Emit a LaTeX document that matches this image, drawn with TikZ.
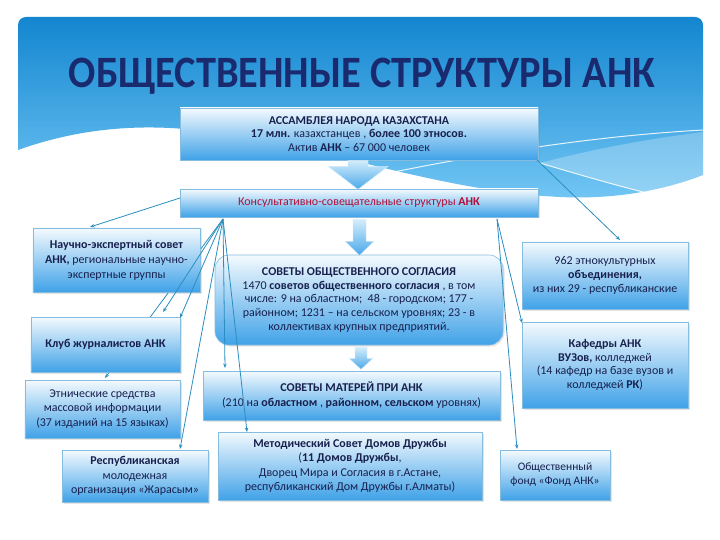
\documentclass[tikz,border=0pt]{standalone}
\usepackage{fontspec}
\setmainfont{Carlito}
\usetikzlibrary{arrows.meta,shadows,calc}
\definecolor{txt}{HTML}{18204E}
\definecolor{titlec}{HTML}{1A2A6E}
\definecolor{crim}{HTML}{B0103A}
\definecolor{panA}{HTML}{1386D0}
\definecolor{panB}{HTML}{72C6F4}
\definecolor{boxtop}{HTML}{F4FAFE}
\definecolor{boxbot}{HTML}{40A2E8}
\definecolor{boxedge}{HTML}{86BCDF}
\definecolor{lineC}{HTML}{2A8EC0}
\definecolor{arrtop}{HTML}{D4EDFB}
\definecolor{arrbot}{HTML}{4AA8EA}
\tikzset{
  box/.style={draw=boxedge, line width=0.6bp, top color=boxtop, bottom color=boxbot,
    align=center, inner sep=2bp, text=txt, font=\fontsize{12}{13.8}\selectfont,
    drop shadow={opacity=0.2, shadow xshift=1.5bp, shadow yshift=-1.5bp}},
  conn/.style={draw=lineC, line width=0.8bp, -{Stealth[length=4.5bp,width=3.5bp]}},
  blockarrow/.style={draw=arrtop, line width=0.4bp, top color=arrtop, bottom color=arrbot},
  wline/.style={draw=white, line width=1bp, opacity=0.85}
}
\begin{document}
\begin{tikzpicture}[x=1bp,y=-1bp]
\useasboundingbox (0,0) rectangle (720,540);
\fill[white] (0,0) rectangle (720,540);
% background panel
\shade[top color=panA, bottom color=panB]
  (18,150) [rounded corners=8bp] -- (18,17) -- (703,17) -- (703,60) [sharp corners] -- (703,175)
  .. controls (670,188) and (620,200) .. (560,197)
  .. controls (420,190) and (300,135) .. (170,128)
  .. controls (110,125) and (60,135) .. (18,150) -- cycle;
\fill[white, opacity=0.25] (540,163) .. controls (580,175) and (615,185) .. (643,192)
  .. controls (670,188) and (690,182) .. (703,175) -- (703,132) .. controls (640,140) and (590,150) .. (540,163) -- cycle;
\draw[wline] (300,192) .. controls (420,165) and (560,138) .. (703,130);
\draw[wline] (540,163) .. controls (580,175) and (615,185) .. (643,192);

\node[font=\fontsize{45}{45}\selectfont\bfseries, text=titlec] (title) at (362,76)
  {\scalebox{0.9}[1]{ОБЩЕСТВЕННЫЕ СТРУКТУРЫ АНК}};

% boxes
\node[box, minimum width=358bp, minimum height=52bp] (asm) at (359,134)
  {{\bfseries АССАМБЛЕЯ НАРОДА КАЗАХСТАНА}\\{\bfseries 17 млн.} казахстанцев , {\bfseries более 100 этносов.}\\Актив {\bfseries АНК} – 67 000 человек};
\node[box, minimum width=358bp, minimum height=28bp] (kon) at (359,203)
  {\textcolor{crim}{Консультативно-совещательные структуры {\bfseries АНК}}};

\coordinate (fanL) at (223,219);
\coordinate (fanR) at (497,219);
\coordinate (tL3) at (105,378);
\draw[conn] (fanL) -- (tL3);

\node[box, minimum width=167bp, minimum height=64bp, font=\fontsize{12}{15}\selectfont] (L1) at (116.5,260)
  {{\bfseries Научно-экспертный совет}\\{\bfseries АНК,} региональные научно-\\экспертные группы};
\node[box, minimum width=149bp, minimum height=55bp] (L2) at (105.5,344.5)
  {{\bfseries Клуб журналистов АНК}};
\node[box, minimum width=155bp, minimum height=58bp, font=\fontsize{12}{14.5}\selectfont] (L3) at (102.5,409)
  {Этнические средства\\массовой информации\\(37 изданий на 15 языках)};
\node[box, minimum width=146bp, minimum height=52bp, font=\fontsize{12}{14.5}\selectfont] (L4) at (135,476)
  {{\bfseries Республиканская}\\молодежная\\организация «Жарасым»};

\node[box, rounded corners=14bp, minimum width=288bp, minimum height=90bp, font=\fontsize{12}{13.6}\selectfont] (C1) at (359,300)
  {{\bfseries СОВЕТЫ ОБЩЕСТВЕННОГО СОГЛАСИЯ}\\1470 {\bfseries советов общественного согласия} , в том\\числе: 9 на областном;\ \ 48 - городском; 177 -\\районном; 1231 – на сельском уровнях; 23 - в\\коллективах крупных предприятий.};
\node[box, minimum width=297bp, minimum height=49bp, font=\fontsize{12}{15}\selectfont] (C2) at (351.5,395.5)
  {{\bfseries СОВЕТЫ МАТЕРЕЙ ПРИ АНК}\\(210 на {\bfseries областном} , {\bfseries районном, сельском} уровнях)};
\node[box, minimum width=264bp, minimum height=68bp, font=\fontsize{12}{14.5}\selectfont] (C3) at (350,466)
  {{\bfseries Методический Совет Домов Дружбы}\\({\bfseries 11 Домов Дружбы},\\Дворец Мира и Согласия в г.Астане,\\республиканский Дом Дружбы г.Алматы)};

\node[box, minimum width=166bp, minimum height=67bp, font=\fontsize{12}{14}\selectfont] (R1) at (605,275.5)
  {962 этнокультурных\\{\bfseries объединения,}\\из них 29 - республиканские};
\node[box, minimum width=166bp, minimum height=86bp, font=\fontsize{12}{13.7}\selectfont] (R2) at (605,365)
  {{\bfseries Кафедры АНК}\\{\bfseries ВУЗов,} колледжей\\(14 кафедр на базе вузов и\\колледжей {\bfseries РК})};
\node[box, minimum width=110bp, minimum height=50bp, font=\fontsize{11.5}{14}\selectfont] (R3) at (555,475)
  {Общественный\\фонд «Фонд АНК»};

% block arrows
\path[blockarrow] ($(asm.south)+(-11,0)$) -- ++(20,0) -- ++(0,6) -- ++(20,0) -- ($(asm.south)+(-1,29)$)
  -- ++(-30,-23) -- ++(20,0) -- cycle;
\path[blockarrow] ($(kon.south)+(-6,2)$) -- ++(13,0) -- ++(0,22) -- ++(8,0) -- ($(kon.south)+(0.5,38)$)
  -- ++(-14.5,-14) -- ++(8,0) -- cycle;
\path[blockarrow] ($(C1.south)+(-4,2)$) -- ++(12,0) -- ++(0,11) -- ++(6,0) -- ($(C1.south)+(2,24)$)
  -- ++(-12,-11) -- ++(6,0) -- cycle;

% connectors
\coordinate (kw) at (180,198);
\coordinate (tL1) at (90,227);
\coordinate (tL2a) at (163,312);
\coordinate (tL2b) at (180,318);
\coordinate (tL4) at (180,449);
\coordinate (tC2) at (225,368);
\coordinate (tC3) at (247,432);
\coordinate (tR2) at (522,323);
\coordinate (tR3) at (517,449);
\coordinate (asmse) at (537,160);
\coordinate (tR1) at (620,240);
\draw[conn] (kw) -- (tL1);
\draw[conn] (fanL) -- (tL2a);
\draw[conn] (fanL) -- (tL2b);
\draw[conn] (fanL) -- (tL4);
\draw[conn] (fanL) -- (tC2);
\draw[conn] (fanL) -- (tC3);
\draw[conn] (fanR) -- (tR2);
\draw[conn] (fanR) -- (tR3);
\draw[conn] (asmse) -- (tR1);
\end{tikzpicture}
\end{document}
